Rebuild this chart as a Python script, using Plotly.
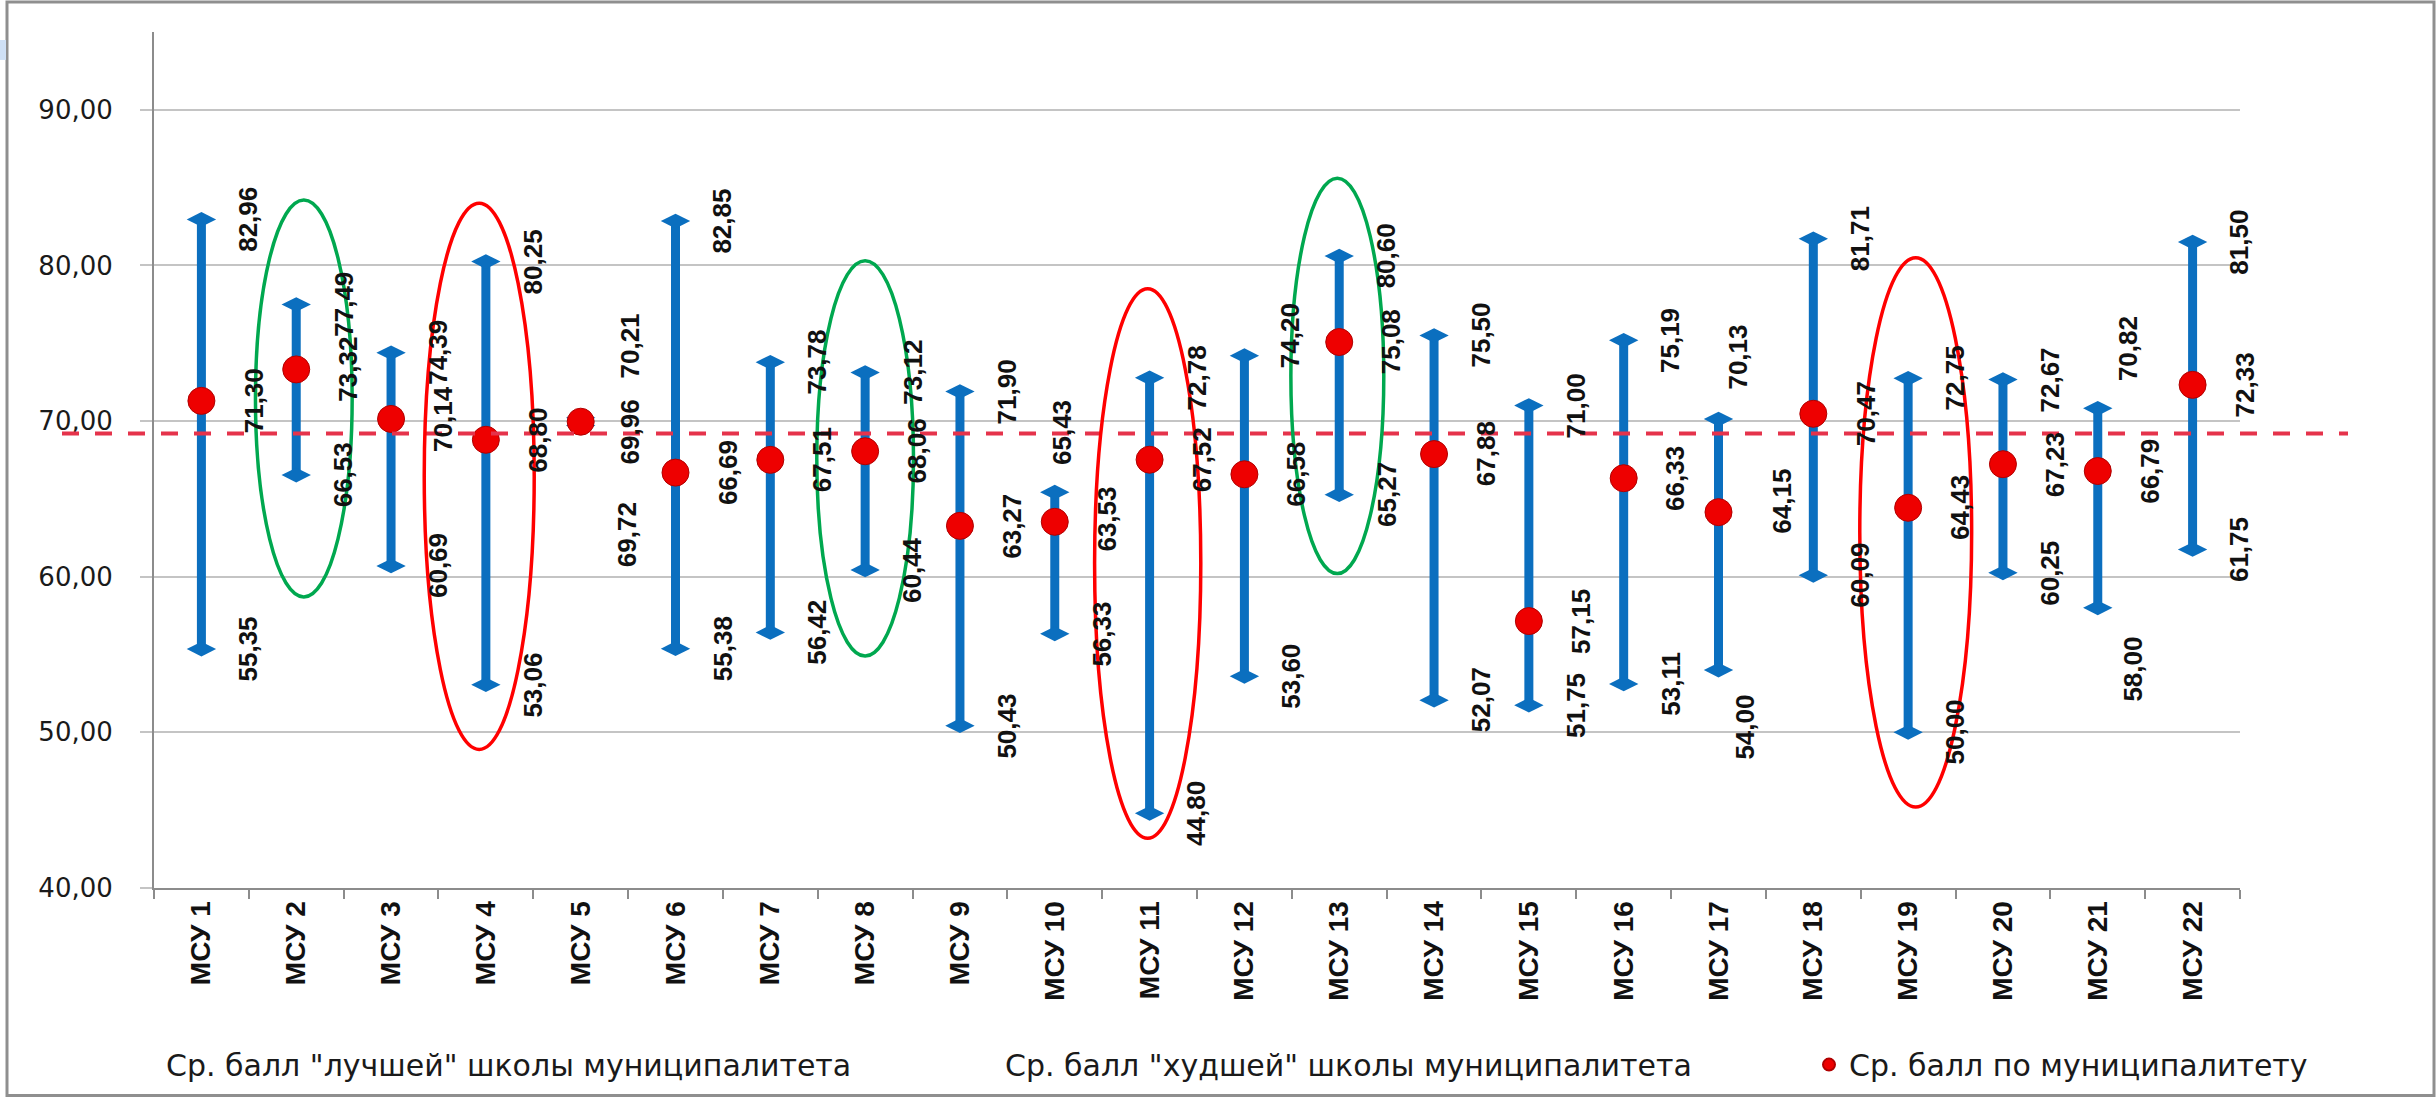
import plotly.graph_objects as go

# ---------------- data ----------------
categories = ["МСУ 1", "МСУ 2", "МСУ 3", "МСУ 4", "МСУ 5", "МСУ 6", "МСУ 7", "МСУ 8",
              "МСУ 9", "МСУ 10", "МСУ 11", "МСУ 12", "МСУ 13", "МСУ 14", "МСУ 15",
              "МСУ 16", "МСУ 17", "МСУ 18", "МСУ 19", "МСУ 20", "МСУ 21", "МСУ 22"]
best = [82.96, 77.49, 74.39, 80.25, 70.21, 82.85, 73.78, 73.12, 71.90, 65.43, 72.78,
        74.20, 80.60, 75.50, 71.00, 75.19, 70.13, 81.71, 72.75, 72.67, 70.82, 81.50]
worst = [55.35, 66.53, 60.69, 53.06, 69.72, 55.38, 56.42, 60.44, 50.43, 56.33, 44.80,
         53.60, 65.27, 52.07, 51.75, 53.11, 54.00, 60.09, 50.00, 60.25, 58.00, 61.75]
mean = [71.30, 73.32, 70.14, 68.80, 69.96, 66.69, 67.51, 68.06, 63.27, 63.53, 67.52,
        66.58, 75.08, 67.88, 57.15, 66.33, 64.15, 70.47, 64.43, 67.23, 66.79, 72.33]
regional_avg = 69.2
y_ticks = [40, 50, 60, 70, 80, 90]
y_tick_labels = ["40,00", "50,00", "60,00", "70,00", "80,00", "90,00"]
series_names = ['Ср. балл "лучшей" школы муниципалитета',
                'Ср. балл "худшей" школы муниципалитета',
                'Ср. балл по муниципалитету']
green_marked = ["МСУ 2", "МСУ 8", "МСУ 13"]
red_marked = ["МСУ 4", "МСУ 11", "МСУ 19"]

# ---------------- styles / layout geometry ----------------
W, H = 2436, 1102
PL, PR, PT, PB = 154, 2240, 32, 890
BLUE = "#0B6FBF"
RED = "#EE0000"
LABEL_FONT = dict(family="Liberation Sans, Arial, sans-serif", size=26, color="#111111")

# default label shifts (px) per series, and manual overrides as in the original
default_shift = {"best": (47, 0), "mean": (52, 0), "worst": (47, 0)}
label_shift = {
    ("МСУ 5", "best"): (49, 72), ("МСУ 5", "mean"): (49, -10), ("МСУ 5", "worst"): (47, -109),
    ("МСУ 10", "best"): (7, 60), ("МСУ 10", "mean"): (52, 3),
    ("МСУ 12", "best"): (45, 20),
    ("МСУ 17", "best"): (20, 62), ("МСУ 17", "mean"): (64, 11), ("МСУ 17", "worst"): (27, -57),
    ("МСУ 21", "best"): (31, 60), ("МСУ 21", "worst"): (35, -61),
}

# ellipse geometry for highlighted categories: (x offset, half width, y low, y high)
ellipse_geom = {
    "МСУ 2": (0.08, 0.51, 58.7, 84.2),
    "МСУ 4": (-0.07, 0.58, 48.9, 84.0),
    "МСУ 8": (0.0, 0.51, 54.9, 80.3),
    "МСУ 11": (-0.02, 0.56, 43.2, 78.5),
    "МСУ 13": (-0.02, 0.49, 60.2, 85.6),
    "МСУ 19": (0.08, 0.59, 45.2, 80.5),
}


def px_x(x):
    return (x - PL) / (PR - PL)


def px_y(y):
    return (PB - y) / (PB - PT)


def fmt(v):
    return f"{v:.2f}".replace(".", ",")


fig = go.Figure()

# vertical ranges (worst -> best)
seg_x, seg_y = [], []
for c, lo, hi in zip(categories, worst, best):
    seg_x += [c, c, None]
    seg_y += [lo, hi, None]
fig.add_trace(go.Scatter(x=seg_x, y=seg_y, mode="lines",
                         line=dict(color=BLUE, width=9),
                         showlegend=False, hoverinfo="skip"))

fig.add_trace(go.Scatter(x=categories, y=best, mode="markers", name=series_names[0],
                         marker=dict(symbol="diamond-wide", size=21, color=BLUE),
                         showlegend=False))
fig.add_trace(go.Scatter(x=categories, y=worst, mode="markers", name=series_names[1],
                         marker=dict(symbol="diamond-wide", size=21, color=BLUE),
                         showlegend=False))
fig.add_trace(go.Scatter(x=categories, y=mean, mode="markers", name=series_names[2],
                         marker=dict(symbol="circle", size=27, color=RED,
                                     line=dict(color="#B00000", width=1)),
                         legend="legend3"))

# legend entries without visible symbols (as in the original)
for nm, lg in zip(series_names[:2], ["legend", "legend2"]):
    fig.add_trace(go.Scatter(x=[None], y=[None], mode="markers", name=nm,
                             marker=dict(color="rgba(0,0,0,0)", size=1),
                             legend=lg))

# value labels
annotations = []
for c, hi, lo, m in zip(categories, best, worst, mean):
    for key, v in (("best", hi), ("mean", m), ("worst", lo)):
        dx, dy = label_shift.get((c, key), default_shift[key])
        annotations.append(dict(x=c, y=v, xref="x", yref="y", text="<b>" + fmt(v) + "</b>",
                                showarrow=False, textangle=-90, xshift=dx, yshift=dy,
                                xanchor="center", yanchor="middle", font=LABEL_FONT))

shapes = []
# outer frame
shapes.append(dict(type="rect", xref="paper", yref="paper",
                   x0=px_x(7), x1=px_x(2434), y0=px_y(1098), y1=px_y(2),
                   line=dict(color="#8F8F8F", width=3), fillcolor="rgba(0,0,0,0)", layer="below"))
shapes.append(dict(type="rect", xref="paper", yref="paper",
                   x0=px_x(0), x1=px_x(6), y0=px_y(60), y1=px_y(40),
                   line=dict(width=0), fillcolor="#CFE0F5", layer="below"))
# regional average dashed line
shapes.append(dict(type="line", xref="paper", yref="y",
                   x0=px_x(62), x1=px_x(2348), y0=regional_avg, y1=regional_avg,
                   line=dict(color="#E5334B", width=4, dash="17px,16px")))
# highlight ellipses
for col, names in (("#00A84F", green_marked), ("#FF0000", red_marked)):
    for nm in names:
        dx, hw, ylo, yhi = ellipse_geom[nm]
        xc = categories.index(nm) + dx
        shapes.append(dict(type="circle", xref="x", yref="y",
                           x0=xc - hw, x1=xc + hw, y0=ylo, y1=yhi,
                           line=dict(color=col, width=3.5)))

legend_font = dict(family="DejaVu Sans, Verdana, sans-serif", size=30, color="#1A1A1A")
legend_common = dict(orientation="h", y=px_y(1067), xanchor="left", yanchor="middle",
                     font=legend_font, itemsizing="constant", bgcolor="rgba(0,0,0,0)")

fig.update_layout(
    width=W, height=H,
    margin=dict(l=PL, r=W - PR, t=PT, b=H - PB, pad=0),
    paper_bgcolor="white", plot_bgcolor="white",
    showlegend=True,
    legend=dict(x=px_x(126), **legend_common),
    legend2=dict(x=px_x(965), **legend_common),
    legend3=dict(x=px_x(1809), **legend_common),
    annotations=annotations,
    shapes=shapes,
    xaxis=dict(type="category", categoryorder="array", categoryarray=categories,
               range=[-0.5, len(categories) - 0.5],
               showline=True, linecolor="#8C8C8C", linewidth=2,
               ticks="outside", tickson="boundaries", ticklen=9, tickcolor="#8C8C8C", tickwidth=2,
               showgrid=False, tickangle=-90,
               tickfont=dict(family="Liberation Sans, Arial, sans-serif",
                             size=28, color="#111111", weight="bold")),
    yaxis=dict(range=[40, 95], tickvals=y_ticks, ticktext=y_tick_labels,
               showgrid=True, gridcolor="#C4C4C4", gridwidth=2, zeroline=False,
               showline=True, linecolor="#8C8C8C", linewidth=2,
               ticks="outside", ticklen=12, tickcolor="#C4C4C4", tickwidth=2,
               ticklabelstandoff=22,
               tickfont=dict(family="DejaVu Sans, Verdana, sans-serif", size=26, color="#1A1A1A")),
)

fig.write_html("out.html", config={"displayModeBar": False},
               post_script="document.body.style.margin='0';document.body.style.overflow='hidden';")
